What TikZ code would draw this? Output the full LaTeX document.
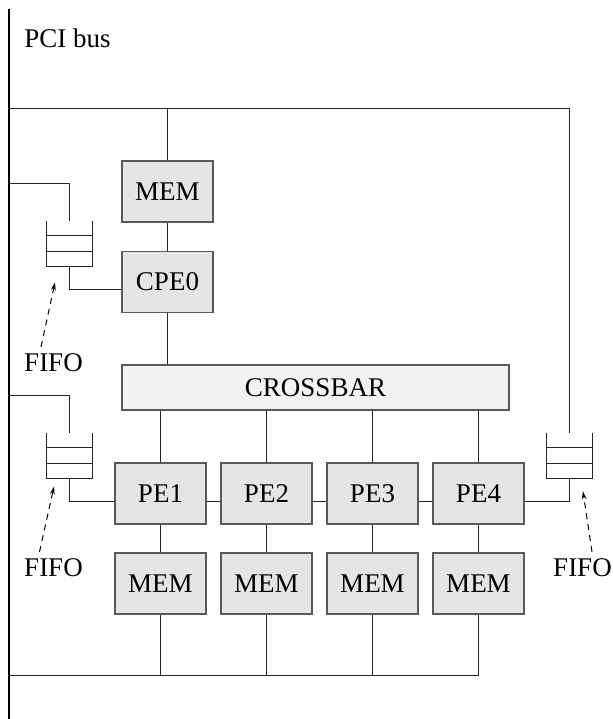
\documentclass[tikz,border=0pt]{standalone}
\usepackage{fontspec}
\setmainfont{Liberation Serif}
\usetikzlibrary{arrows.meta, positioning, calc}
\tikzset{
  unitBox/.style={rectangle, draw=black!65, fill=black!10, line width=0.7pt,
                  minimum width=45.5pt, minimum height=30.5pt, inner sep=0pt},
  xbarBox/.style={rectangle, draw=black!65, fill=black!5, line width=0.7pt,
                  minimum width=193.5pt, minimum height=22.5pt, inner sep=0pt},
  fifoBox/.style={rectangle, minimum width=22.5pt, minimum height=22.5pt,
                  inner sep=0pt},
  wire/.style={draw=black!85, line width=0.5pt},
  pciBus/.style={draw=black, line width=1.3pt},
  fifoPtr/.style={draw=black, line width=0.5pt, dash pattern=on 3pt off 2.5pt,
                  -{Stealth[length=4pt, width=2.4pt]}},
}

\begin{document}
\begin{tikzpicture}[x=0.5pt, y=-0.5pt, font=\fontsize{13.5}{16}\selectfont]
    \useasboundingbox (0,0) rectangle (613,719);

    %% PCI bus
    \coordinate (busTop) at (9,9);
    \coordinate (busBot) at (9,719);
    \draw[pciBus] (busTop) -- (busBot);
    \node[anchor=base west, inner sep=0pt] (pciLbl) at (24,47) {PCI bus};

    %% control processor and crossbar
    \node[unitBox] (memC) at (167.5,191.5) {MEM};
    \node[unitBox] (cpe) at (167.5,282) {CPE0};
    \node[xbarBox] (xbar) at (315.5,387.5) {CROSSBAR};

    %% processing elements with their memories
    \foreach \i/\x in {1/160.5, 2/266.5, 3/372.5, 4/478.5} {
      \node[unitBox] (pe\i) at (\x,493.5) {PE\i};
      \node[unitBox] (mem\i) at (\x,583.5) {MEM};
    }

    %% fifos
    \node[fifoBox] (fifoA) at (69.5,243.5) {};
    \node[fifoBox] (fifoB) at (69.5,455.5) {};
    \node[fifoBox] (fifoC) at (569.5,455.5) {};
    \foreach \f in {fifoA, fifoB, fifoC} {
      \draw[wire] (\f.north west) -- (\f.south west) -- (\f.south east)
                  -- (\f.north east);
      \draw[wire] ($(\f.south west)!1/3!(\f.north west)$)
                  -- ($(\f.south east)!1/3!(\f.north east)$)
                  ($(\f.south west)!2/3!(\f.north west)$)
                  -- ($(\f.south east)!2/3!(\f.north east)$);
    }

    %% taps on the bus
    \coordinate (tapTop) at (9,108);
    \coordinate (tapA) at (9,183);
    \coordinate (tapB) at (9,395);
    \coordinate (tapBot) at (9,675);

    \draw[wire] (tapTop) -| (fifoC.north);
    \draw[wire] (memC.north |- tapTop) -- (memC.north);
    \draw[wire] (tapA) -| (fifoA.north);
    \draw[wire] (tapB) -| (fifoB.north);
    \draw[wire] (tapBot) -- (mem4.south |- tapBot);
    \foreach \i in {1,...,4}
      \draw[wire] (mem\i.south) -- (mem\i.south |- tapBot);

    %% control path
    \draw[wire] (memC) -- (cpe);
    \draw[wire] (cpe.south) -- (cpe.south |- xbar.north);
    \draw[wire] (fifoA.south) |- ([yshift=-3.75pt]cpe.west);

    %% processing path
    \foreach \i in {1,...,4} {
      \draw[wire] (pe\i.north |- xbar.south) -- (pe\i.north);
      \draw[wire] (pe\i) -- (mem\i);
    }
    \draw[wire] (fifoB.south) |- ([yshift=-3.75pt]pe1.west);
    \foreach \i/\j in {1/2, 2/3, 3/4}
      \draw[wire] ([yshift=-3.75pt]pe\i.east) -- ([yshift=-3.75pt]pe\j.west);
    \draw[wire] ([yshift=-3.75pt]pe4.east) -| (fifoC.south);

    %% fifo labels
    \node (lblA) at (53.5,363) {FIFO};
    \node (lblB) at (53.5,568) {FIFO};
    \node (lblC) at (582.5,568) {FIFO};
    \draw[fifoPtr] ([xshift=-6.25pt]lblA.north)
                   -- ([xshift=-7.25pt, yshift=-8pt]fifoA.south);
    \draw[fifoPtr] ([xshift=-7pt]lblB.north)
                   -- ([xshift=-7.75pt, yshift=-4pt]fifoB.south);
    \draw[fifoPtr] ([xshift=4.75pt]lblC.north)
                   -- ([xshift=6.75pt, yshift=-6.5pt]fifoC.south);
\end{tikzpicture}
\end{document}
